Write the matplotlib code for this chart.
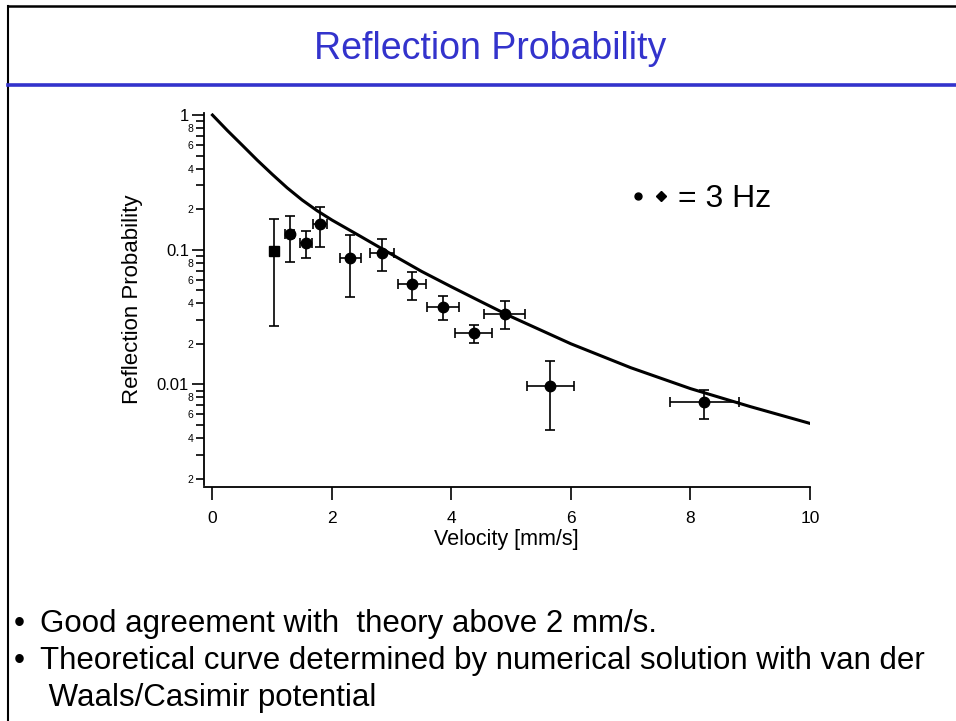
import numpy as np
import matplotlib.pyplot as plt
from matplotlib.lines import Line2D
from matplotlib.legend_handler import HandlerTuple
from matplotlib.ticker import FixedLocator, LogLocator, FuncFormatter

WIDTH, HEIGHT, DPI = 956, 721, 100
plt.rcParams['font.family'] = ['Liberation Sans', 'DejaVu Sans']

# measured points (3 Hz), velocity in mm/s
velocity = [1.03, 1.29, 1.56, 1.80, 2.31, 2.84, 3.345, 3.857, 4.375, 4.89, 5.656, 8.23]
vel_err = [0.0, 0.08, 0.10, 0.12, 0.17, 0.20, 0.235, 0.27, 0.31, 0.34, 0.40, 0.58]
prob = [0.098, 0.130, 0.1115, 0.155, 0.0863, 0.0945, 0.0556, 0.0376, 0.0239, 0.0335, 0.00973, 0.00736]
prob_hi = [0.169, 0.179, 0.138, 0.206, 0.129, 0.121, 0.0687, 0.0453, 0.0276, 0.0416, 0.0149, 0.00904]
prob_lo = [0.0273, 0.0806, 0.0863, 0.104, 0.0443, 0.069, 0.0423, 0.030, 0.0204, 0.0258, 0.00459, 0.00554]

# theory curve (van der Waals / Casimir)
theory_v = [0, 0.25, 0.5, 0.75, 1, 1.25, 1.5, 1.75, 2, 2.5, 3, 3.5, 4, 4.5, 5, 6, 7, 8, 9, 10]
theory_p = [1.0, 0.767, 0.596, 0.462, 0.363, 0.288, 0.234, 0.195, 0.166, 0.124, 0.0923,
            0.0690, 0.0530, 0.0410, 0.0318, 0.0200, 0.0133, 0.0093, 0.00684, 0.00513]

x_ticks = [0, 2, 4, 6, 8, 10]
y_major = [0.01, 0.1, 1]

bullets = ["Good agreement with  theory above 2 mm/s.",
           "Theoretical curve determined by numerical solution with van der",
           " Waals/Casimir potential"]

fig = plt.figure(figsize=(WIDTH/DPI, HEIGHT/DPI), dpi=DPI, facecolor='white')

# slide frame and header rule
fig.add_artist(Line2D([8/WIDTH, 1], [1-6/HEIGHT, 1-6/HEIGHT], color='k', lw=1.8, transform=fig.transFigure))
fig.add_artist(Line2D([8/WIDTH, 8/WIDTH], [0, 1-6/HEIGHT], color='k', lw=1.5, transform=fig.transFigure))
fig.add_artist(Line2D([8/WIDTH, 1], [1-85/HEIGHT, 1-85/HEIGHT], color='#3333cc', lw=2.6, transform=fig.transFigure))

fig.text(490/WIDTH, 1-59/HEIGHT, "Reflection Probability", ha='center', va='baseline',
         fontsize=27, color='#3333cc')

ax = fig.add_axes([203.5/WIDTH, (HEIGHT-485)/HEIGHT, (810-203.5)/WIDTH, (485-113.3)/HEIGHT])
ax.set_yscale('log')
ax.set_xlim(-0.15, 10)
ax.set_ylim(0.00179, 1.03)

ax.plot(theory_v, theory_p, color='k', lw=2.2, zorder=2)

yerr = [np.array(prob) - np.array(prob_lo), np.array(prob_hi) - np.array(prob)]
ax.errorbar(velocity, prob, yerr=yerr, xerr=vel_err, fmt='none', ecolor='k',
            elinewidth=1.2, capsize=3.6, capthick=1.2, zorder=3)
ax.plot(velocity[:1], prob[:1], 's', color='k', ms=6.5, zorder=4)
ax.plot(velocity[1:], prob[1:], 'o', color='k', ms=7.5, zorder=4)

for s in ['top', 'right']:
    ax.spines[s].set_visible(False)
ax.spines['left'].set_linewidth(1.3)
ax.spines['bottom'].set_linewidth(1.3)
ax.spines['bottom'].set_position(('outward', 1.5))

ax.set_xticks(x_ticks)
ax.tick_params(axis='x', length=9, width=1.2, pad=8.5, labelsize=12.5)

ax.yaxis.set_major_locator(FixedLocator(y_major))
ax.yaxis.set_major_formatter(FuncFormatter(lambda v, p: f"{v:g}"))
ax.yaxis.set_minor_locator(LogLocator(base=10, subs=range(2, 10)))


def minor_label(v, p):
    d = int(round(v / 10**np.floor(np.log10(v) + 1e-9)))
    return str(d) if d in (2, 4, 6, 8) else ""


ax.yaxis.set_minor_formatter(FuncFormatter(minor_label))
ax.tick_params(axis='y', which='major', length=9, width=1.2, pad=1.5, labelsize=12)
ax.tick_params(axis='y', which='minor', length=6, width=1.2, pad=1.5, labelsize=7.5)

ax.set_xlabel("Velocity [mm/s]", fontsize=15.5)
ax.xaxis.set_label_coords(0.5, -0.118)
ax.set_ylabel("Reflection Probability", fontsize=16)
ax.yaxis.set_label_coords(-0.10, 0.5)

h_dot = Line2D([], [], ls='none', marker='o', color='k', ms=5)
h_dia = Line2D([], [], ls='none', marker='D', color='k', ms=5)
fig.legend([(h_dot, h_dia)], ["= 3 Hz"], handler_map={tuple: HandlerTuple(ndivide=None, pad=0.3)},
           frameon=False, fontsize=23, loc='center left', bbox_to_anchor=(631/WIDTH, 1-199/HEIGHT),
           handlelength=1.15, handletextpad=0.32, borderpad=0, borderaxespad=0)

baselines = [632, 669, 706]
for i, line in enumerate(bullets):
    yb = 1 - baselines[i]/HEIGHT
    if i < 2:
        fig.text(14/WIDTH, yb, "\u2022", fontsize=22.5, va='baseline')
    fig.text(40/WIDTH, yb, line, fontsize=22.5, va='baseline')

plt.savefig("out.png", dpi=DPI)
